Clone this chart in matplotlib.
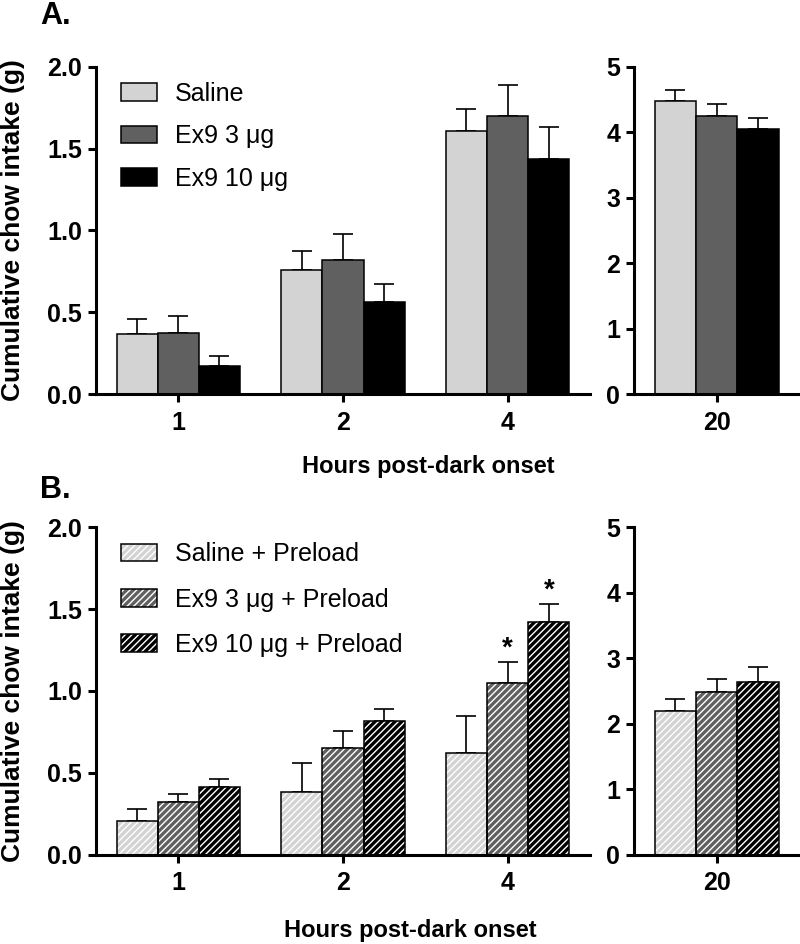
import matplotlib
matplotlib.use("Agg")
import matplotlib.pyplot as plt
from matplotlib.patches import Patch
import numpy as np

plt.rcParams['font.family'] = ['Liberation Sans', 'DejaVu Sans']
plt.rcParams['hatch.linewidth'] = 1.0

# data
hours = ['1', '2', '4']
late_hour = ['20']
names_a = ['Saline', 'Ex9 3 \u03bcg', 'Ex9 10 \u03bcg']
names_b = ['Saline + Preload', 'Ex9 3 \u03bcg + Preload', 'Ex9 10 \u03bcg + Preload']
colors = ['#d3d3d3', '#606060', '#000000']

saline_a = [0.37, 0.76, 1.61]
saline_a_err = [0.09, 0.115, 0.13]
ex3_a = [0.375, 0.82, 1.70]
ex3_a_err = [0.10, 0.16, 0.19]
ex10_a = [0.17, 0.56, 1.44]
ex10_a_err = [0.065, 0.11, 0.19]
late_a = [4.48, 4.25, 4.05]
late_a_err = [0.16, 0.19, 0.17]

saline_b = [0.205, 0.383, 0.62]
saline_b_err = [0.075, 0.175, 0.225]
ex3_b = [0.322, 0.65, 1.047]
ex3_b_err = [0.047, 0.104, 0.132]
ex10_b = [0.415, 0.818, 1.423]
ex10_b_err = [0.045, 0.071, 0.11]
late_b = [2.195, 2.49, 2.64]
late_b_err = [0.185, 0.2, 0.23]

stars_b = [(2, 1), (2, 2)]  # (hour index, group index)

W = 0.25
FS = 18


def style_axis(ax, ylim, yticks, fmt):
    ax.set_ylim(*ylim)
    ax.set_yticks(yticks)
    ax.set_yticklabels([fmt.format(v) for v in yticks], fontsize=FS, fontweight='bold')
    for s in ['top', 'right']:
        ax.spines[s].set_visible(False)
    for s in ['left', 'bottom']:
        ax.spines[s].set_linewidth(2.2)
    ax.tick_params(width=2.2, length=6, pad=4)
    ax.tick_params(axis='x', pad=6)


def draw_bars(ax, x, series, errs, hatched):
    for i, (vals, err) in enumerate(zip(series, errs)):
        xs = x + (i - 1) * W
        if hatched:
            ax.bar(xs, vals, W, color=colors[i], edgecolor='white', linewidth=0, hatch='/////', zorder=2)
            ax.bar(xs, vals, W, fill=False, edgecolor='black', linewidth=1.1, zorder=3)
        else:
            ax.bar(xs, vals, W, color=colors[i], edgecolor='black', linewidth=1.1, zorder=2)
        ax.errorbar(xs, vals, yerr=[np.zeros(len(vals)), err], fmt='none', ecolor='black',
                    elinewidth=1.2, capsize=7, capthick=1.2, zorder=1)


fig = plt.figure(figsize=(8, 9.44), dpi=100)

rows = [
    (0.5826, [saline_a, ex3_a, ex10_a], [saline_a_err, ex3_a_err, ex10_a_err],
     late_a, late_a_err, False, names_a, 0.985, 0.74),
    (0.0948, [saline_b, ex3_b, ex10_b], [saline_b_err, ex3_b_err, ex10_b_err],
     late_b, late_b_err, True, names_b, 0.985, 0.85),
]

for r, (bottom, series, errs, late, late_err, hatched, names, leg_top, spacing) in enumerate(rows):
    ax = fig.add_axes([0.12, bottom, 0.6175, 0.3465])
    x = np.arange(len(hours))
    draw_bars(ax, x, series, errs, hatched)
    ax.set_xlim(-0.5, 2.5)
    ax.set_xticks(x)
    ax.set_xticklabels(hours, fontsize=FS, fontweight='bold')
    style_axis(ax, (0, 2.0), [0.0, 0.5, 1.0, 1.5, 2.0], '{:.1f}')

    ax2 = fig.add_axes([0.7925, bottom, 0.2065, 0.3465])
    x2 = np.arange(len(late_hour))
    draw_bars(ax2, x2, [[v] for v in late], [[e] for e in late_err], hatched)
    ax2.set_xlim(-0.5, 0.5)
    ax2.set_xticks(x2)
    ax2.set_xticklabels(late_hour, fontsize=FS, fontweight='bold')
    style_axis(ax2, (0, 5), [0, 1, 2, 3, 4, 5], '{:d}')

    if hatched:
        for hi, gi in stars_b:
            top = series[gi][hi] + errs[gi][hi]
            ax.annotate('*', (hi + (gi - 1) * W, top), xytext=(0, 0), textcoords='offset points',
                        ha='center', va='bottom', fontsize=20, fontweight='bold')
        handles = [(Patch(facecolor=c, edgecolor='white', linewidth=0, hatch='/////'),
                    Patch(fill=False, edgecolor='black', linewidth=1.1)) for c in colors]
    else:
        handles = [Patch(facecolor=c, edgecolor='black', linewidth=1.1) for c in colors]

    ax.legend(handles, names, loc='upper left', bbox_to_anchor=(0.03, leg_top), frameon=False,
              fontsize=FS, handlelength=1.45, handleheight=0.7, handletextpad=0.7,
              labelspacing=spacing, borderaxespad=0)

    ymid = bottom + 0.3465 / 2
    fig.text(0.016, ymid, 'Cumulative chow intake (g)', rotation=90, ha='center', va='center',
             fontsize=19, fontweight='bold')

fig.text(0.536, 1 - 467 / 944, 'Hours post-dark onset', ha='center', va='center',
         fontsize=17, fontweight='bold')
fig.text(0.513, 1 - 930 / 944, 'Hours post-dark onset', ha='center', va='center',
         fontsize=17, fontweight='bold')
fig.text(0.05, 1 - 16 / 944, 'A.', ha='left', va='center', fontsize=22, fontweight='bold')
fig.text(0.05, 1 - 490 / 944, 'B.', ha='left', va='center', fontsize=22, fontweight='bold')

fig.savefig('out.png', dpi=100)
